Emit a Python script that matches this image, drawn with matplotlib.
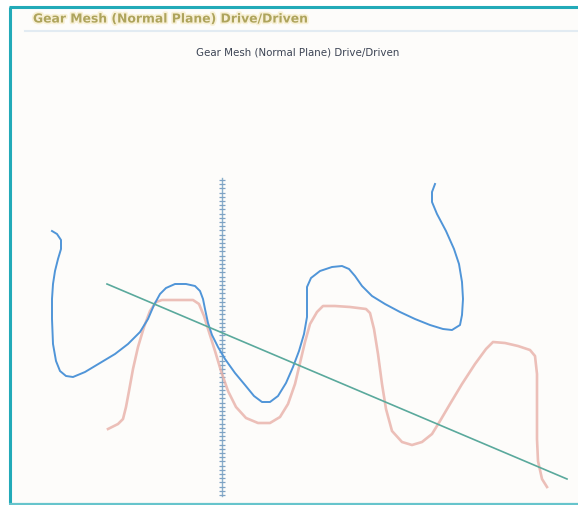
import numpy as np
import matplotlib
matplotlib.use("Agg")
import matplotlib.pyplot as plt
import matplotlib.patheffects as pe

title = "Gear Mesh (Normal Plane) Drive/Driven"
subtitle = "Gear Mesh (Normal Plane) Drive/Driven"

# Driver tooth profile (blue)
drive_x = [52, 57, 61, 61, 58, 55, 53, 52, 52, 53, 56, 60, 66, 73, 85, 100, 115, 128, 140,
           148, 154, 160, 166, 175, 186, 195, 200, 203, 205, 208, 212, 218, 225, 235, 245,
           254, 262, 270, 278, 286, 293, 299, 304, 307, 307, 307, 311, 320, 332, 342, 349,
           355, 362, 372, 385, 400, 415, 430, 443, 452, 460, 462, 463, 462, 459, 454, 446,
           437, 432, 432, 435]
drive_y = [232, 235, 241, 250, 260, 272, 285, 300, 320, 345, 362, 372, 377, 378, 373, 364,
           355, 345, 333, 320, 306, 295, 289, 285, 285, 287, 292, 300, 310, 324, 336, 348,
           360, 374, 386, 397, 403, 403, 397, 384, 368, 352, 335, 318, 300, 288, 279, 272,
           268, 267, 270, 277, 287, 297, 305, 313, 320, 326, 330, 331, 326, 316, 300, 283,
           265, 250, 232, 215, 203, 193, 185]

# Driven tooth profile (red)
driven_x = [108, 118, 123, 126, 129, 133, 138, 144, 150, 156, 162, 175, 193, 199, 204, 209,
            215, 221, 228, 236, 246, 258, 270, 280, 288, 295, 300, 305, 310, 317, 323, 335,
            350, 366, 370, 374, 378, 382, 386, 392, 402, 412, 422, 432, 440, 450, 462, 475,
            486, 493, 505, 518, 530, 535, 537, 537, 537, 538, 542, 547]
driven_y = [430, 425, 420, 408, 392, 370, 348, 328, 312, 303, 301, 301, 301, 305, 317, 333,
            352, 372, 392, 408, 419, 424, 424, 418, 405, 385, 364, 343, 325, 313, 307, 307,
            308, 310, 314, 330, 355, 385, 410, 432, 443, 446, 443, 435, 422, 405, 385, 365,
            350, 343, 344, 347, 351, 357, 375, 410, 440, 462, 480, 488]

# Line of action (green)
loa_x = [107, 567]
loa_y = [285, 480]

# Pitch axis (vertical)
axis_x = 222
axis_y = [179, 497]

W, H = 578, 506
fig = plt.figure(figsize=(W / 100, H / 100), dpi=100)
fig.patch.set_facecolor("white")
ax = fig.add_axes([0, 0, 1, 1])
ax.set_xlim(0, W)
ax.set_ylim(H, 0)
ax.axis("off")

# panel background
ax.add_patch(plt.Rectangle((10, 8), W - 10, 496, facecolor="#fdfcfa", edgecolor="none", zorder=0))
# frame (left, top, bottom)
frame_c = "#22aab8"
ax.plot([9.5, 9.5], [7.5, 504.5], color=frame_c, lw=2.2, solid_capstyle="butt", zorder=5)
ax.plot([8.5, W], [7.5, 7.5], color=frame_c, lw=2.2, solid_capstyle="butt", zorder=5)
ax.plot([8.5, W], [504.5, 504.5], color="#66c4cc", lw=1.6, solid_capstyle="butt", zorder=5)
# separator under header
ax.plot([25, W], [31.5, 31.5], color="#e2ebf2", lw=1.5, zorder=1)

# header title
ax.text(33, 20, title, fontsize=8.9, color="#aea45c", ha="left", va="center",
        family="DejaVu Sans", fontweight="semibold",
        path_effects=[pe.withStroke(linewidth=2.5, foreground="#f8f0d6")])
# chart subtitle
ax.text(298, 52, subtitle, fontsize=7.4, color="#3c4454", ha="center", va="center",
        family="DejaVu Sans")

# vertical axis with small ticks
ax.plot([axis_x, axis_x], axis_y, color="#8cb0cc", lw=1.0, zorder=2)
ticks = np.arange(axis_y[0] + 2, axis_y[1], 4.2)
ax.plot(np.full_like(ticks, axis_x), ticks, linestyle="none", marker="_",
        markersize=4, markeredgewidth=0.9, color="#7ea2c4", zorder=2)

# curves
ax.plot(driven_x, driven_y, color="#e8b0a8", lw=1.9, alpha=0.8, zorder=3,
        solid_joinstyle="round")
ax.plot(drive_x, drive_y, color="#5095d8", lw=1.4, zorder=4, solid_joinstyle="round")
ax.plot(loa_x, loa_y, color="#5aa99c", lw=1.2, zorder=4)

fig.savefig("out.png", dpi=100, facecolor="white")
